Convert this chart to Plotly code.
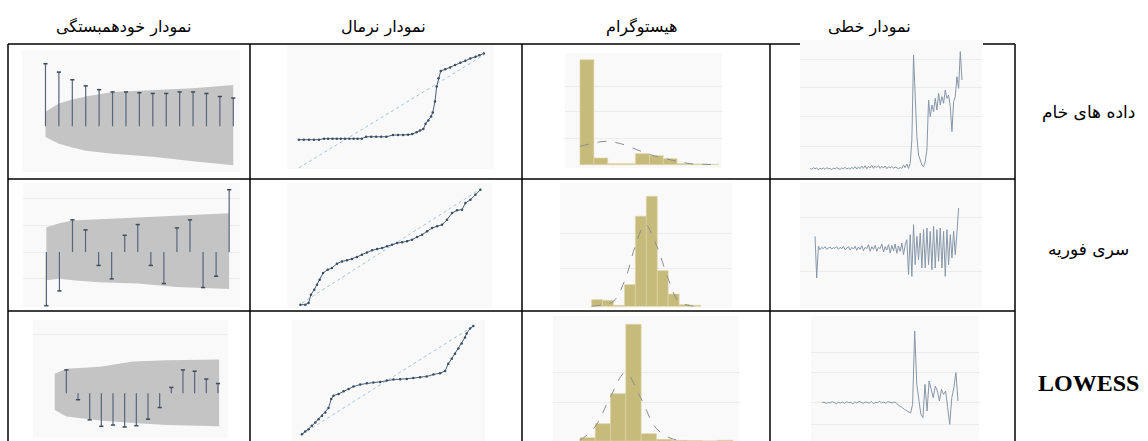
import plotly.graph_objects as go

W, H = 1148, 441

# ---------------- text ----------------
col_headers = ["نمودار خودهمبستگی", "نمودار نرمال", "هیستوگرام", "نمودار خطی"]
row_labels = ["داده های خام", "سری فوریه", "LOWESS"]

# ---------------- autocorrelation (ACF) ----------------
acf1_lags = [1, 2, 3, 4, 5, 6, 7, 8, 9, 10, 11, 12, 13, 14, 15]
acf1_vals = [0.82, 0.71, 0.61, 0.53, 0.48, 0.45, 0.45, 0.44, 0.43, 0.43, 0.45, 0.45, 0.43, 0.39, 0.37]
acf1_band_lags = [1, 2, 3, 4, 6, 9, 12, 15]
acf1_band_up = [0.19, 0.30, 0.35, 0.39, 0.45, 0.47, 0.50, 0.54]
acf1_band_lo = [-0.14, -0.23, -0.28, -0.32, -0.36, -0.40, -0.46, -0.51]

acf2_lags = [1, 2, 3, 4, 5, 6, 7, 8, 9, 10, 11, 12, 13, 14, 15]
acf2_vals = [-0.80, -0.58, 0.48, 0.33, -0.20, -0.40, 0.25, 0.41, -0.20, -0.47, 0.36, 0.48, -0.53, -0.36, 0.93]
acf2_band_lags = [1, 2, 3, 5, 8, 11, 15]
acf2_band_up = [0.37, 0.43, 0.47, 0.49, 0.52, 0.54, 0.58]
acf2_band_lo = [-0.42, -0.40, -0.42, -0.45, -0.47, -0.52, -0.55]

acf3_lags = [1, 2, 3, 4, 5, 6, 7, 8, 9, 10, 11, 12, 13, 14]
acf3_vals = [0.36, -0.10, -0.41, -0.51, -0.49, -0.52, -0.50, -0.40, -0.22, 0.09, 0.36, 0.34, 0.22, 0.15]
acf3_band_lags = [0, 1, 3.9, 6.7, 9.6, 14.1]
acf3_band_up = [0.30, 0.38, 0.41, 0.49, 0.51, 0.52]
acf3_band_lo = [-0.26, -0.36, -0.42, -0.46, -0.49, -0.51]

# ---------------- normal Q-Q ----------------
qq1_expected = [0, 0.27, 0.55, 0.82, 1.09, 1.36, 1.58, 1.82, 2.05, 2.27, 2.49, 2.73, 2.96, 3.18, 3.40,
                3.64, 3.91, 4.18, 4.45, 4.73, 5.09, 5.36, 5.64, 5.91, 6.13, 6.36, 6.55, 6.73, 6.85, 7.0,
                7.15, 7.24, 7.36, 7.45, 7.55, 7.67, 7.91, 8.18, 8.45, 8.73, 9.0, 9.27, 9.55, 9.76, 10.0]
qq1_observed = [2.50, 2.50, 2.50, 2.50, 2.50, 2.59, 2.59, 2.59, 2.59, 2.59, 2.59, 2.59, 2.59, 2.59, 2.59,
                2.76, 2.76, 2.76, 2.76, 2.76, 2.91, 2.91, 2.91, 2.94, 3.0, 3.15, 3.32, 3.44, 3.91, 4.21,
                4.56, 4.91, 5.88, 7.21, 7.94, 8.59, 8.74, 8.91, 9.12, 9.32, 9.5, 9.71, 9.85, 10.0, 10.15]

qq2_expected = [-0.09, 0.19, 0.37, 0.50, 0.69, 0.84, 0.99, 1.18, 1.44, 1.68, 1.96, 2.24, 2.52, 2.80, 3.08,
                3.36, 3.64, 3.93, 4.21, 4.49, 4.77, 5.05, 5.33, 5.61, 5.89, 6.17, 6.45, 6.73, 7.01, 7.29,
                7.57, 7.85, 8.13, 8.41, 8.69, 8.97, 9.16, 9.44, 9.72, 10.0]
qq2_observed = [-0.15, -0.15, 0.0, 0.73, 1.17, 1.61, 2.05, 2.63, 2.92, 3.07, 3.45, 3.65, 3.74, 3.86, 4.04,
                4.24, 4.44, 4.62, 4.74, 4.82, 4.97, 5.12, 5.26, 5.32, 5.41, 5.56, 5.79, 5.99, 6.29, 6.58,
                6.73, 6.87, 7.31, 7.89, 8.13, 8.19, 8.77, 9.06, 9.50, 9.94]

qq3_expected = [0, 0.19, 0.39, 0.58, 0.78, 0.97, 1.17, 1.36, 1.55, 1.71, 1.84, 2.14, 2.43, 2.72, 3.01,
                3.40, 3.79, 4.17, 4.56, 4.95, 5.34, 5.73, 6.12, 6.50, 6.89, 7.28, 7.67, 8.06, 8.35, 8.54,
                8.74, 8.93, 9.13, 9.32, 9.51, 9.61, 9.81, 10.0]
qq3_observed = [0, 0.25, 0.47, 0.78, 1.09, 1.40, 1.71, 2.02, 2.42, 3.26, 3.57, 3.73, 3.98, 4.19, 4.41,
                4.60, 4.72, 4.78, 4.84, 4.97, 5.06, 5.09, 5.12, 5.19, 5.28, 5.34, 5.53, 5.65, 5.84, 6.52,
                6.99, 7.45, 7.92, 8.39, 8.94, 9.32, 9.78, 10.0]
qq_line = [0, 10]

# ---------------- histograms ----------------
hist1_counts = [315, 20, 3, 3, 33, 27, 18, 3, 2, 1]
hist1_curve_x = [0, 1, 1.93, 3.01, 4.1, 5.06, 6.02, 6.99, 7.95, 8.92, 10.0]
hist1_curve_y = [55, 65, 70, 62, 45, 30, 20, 10, 3, 1, 0]

hist2_counts = [20, 18, 3, 65, 270, 330, 107, 37, 5, 3]
hist2_curve_x = [0, 1.07, 1.99, 3.06, 3.98, 4.89, 5.96, 7.03, 7.95, 9.02, 10.0]
hist2_curve_y = [0, 5, 15, 80, 180, 245, 180, 80, 15, 2, 0]

hist3_counts = [10, 52, 142, 350, 22, 5, 2, 1, 0, 2]
hist3_curve_x = [0, 0.95, 1.97, 2.97, 3.97, 4.95, 5.95, 6.9]
hist3_curve_y = [2, 40, 130, 205, 130, 40, 8, 0]

# ---------------- line charts ----------------
line1_vals = [35, 32, 37, 34, 36, 31, 35, 33, 36, 32, 37, 34, 35, 31, 36, 33, 37, 34, 32, 36,
              34, 38, 33, 36, 32, 38, 34, 40, 33, 39, 34, 42, 35, 43, 34, 41, 36, 44, 35, 42,
              37, 43, 35, 41, 36, 42, 34, 40, 36, 41, 35, 39, 36, 34, 37, 35, 45, 37, 48, 35,
              50, 120, 375, 270, 130, 75, 60, 45, 40, 55, 90, 240, 190, 225, 205, 245, 210, 260,
              225, 250, 230, 270, 245, 255, 220, 145, 235, 250, 310, 275, 385, 300]
line2_vals = [215, 90, 185, 175, 182, 178, 184, 176, 180, 183, 177, 181, 179, 184, 176, 182, 178, 185,
              175, 180, 184, 174, 182, 177, 185, 173, 183, 176, 187, 172, 182, 178, 190, 170, 184, 176,
              188, 170, 182, 178, 192, 168, 184, 174, 190, 165, 188, 172, 192, 164, 186, 170, 195, 160,
              190, 205, 100, 220, 95, 250, 130, 215, 145, 225, 120, 235, 120, 240, 130, 230, 115, 245,
              120, 235, 140, 240, 120, 230, 95, 235, 130, 220, 150, 230, 160, 225, 300]
line3_vals = [115, 117, 113, 116, 114, 118, 115, 112, 116, 114, 117, 113, 118, 115, 116, 112, 117, 114,
              119, 115, 113, 117, 116, 114, 118, 112, 116, 115, 119, 114, 117, 113, 118, 116, 114, 117,
              115, 108, 105, 100, 95, 92, 88, 84, 110, 330, 170, 120, 80, 70, 170, 90, 180, 155, 130,
              165, 150, 120, 155, 140, 150, 100, 50, 130, 160, 205, 120]

# ---------------- layout helpers ----------------
def dom(x0, x1, y0, y1):
    return [x0 / W, x1 / W], [1 - y1 / H, 1 - y0 / H]

fig = go.Figure()
layout = {}
axis_n = [0]

BG = "#f9f9f9"
GRID = "#ececec"

def new_axes(box, xr, yr, ygrid=None):
    axis_n[0] += 1
    n = axis_n[0]
    xd, yd = dom(*box)
    xs = "xaxis" if n == 1 else f"xaxis{n}"
    ys = "yaxis" if n == 1 else f"yaxis{n}"
    layout[xs] = dict(domain=xd, range=xr, showgrid=False, zeroline=False, showticklabels=False,
                      ticks="", showline=False, anchor="y" if n == 1 else f"y{n}", fixedrange=True)
    layout[ys] = dict(domain=yd, range=yr, zeroline=False, showticklabels=False, ticks="",
                      showline=False, anchor="x" if n == 1 else f"x{n}", fixedrange=True,
                      showgrid=ygrid is not None, gridcolor=GRID, gridwidth=1,
                      tickvals=ygrid if ygrid is not None else None)
    return ("x" if n == 1 else f"x{n}"), ("y" if n == 1 else f"y{n}")

def stems(lags, vals):
    xs, ys = [], []
    for l, v in zip(lags, vals):
        xs += [l, l, None]
        ys += [0, v, None]
    return xs, ys

def add_acf(box, xr, yr, lags, vals, blags, bup, blo, grid):
    xa, ya = new_axes(box, xr, yr, grid)
    fig.add_trace(go.Scatter(x=list(blags) + list(blags)[::-1], y=list(bup) + list(blo)[::-1],
                             fill="toself", fillcolor="#c4c4c4", line=dict(width=0), mode="lines",
                             xaxis=xa, yaxis=ya, hoverinfo="skip"))
    sx, sy = stems(lags, vals)
    fig.add_trace(go.Scatter(x=sx, y=sy, mode="lines", line=dict(color="#56657a", width=1.2),
                             xaxis=xa, yaxis=ya, hoverinfo="skip"))
    fig.add_trace(go.Scatter(x=lags, y=vals, mode="markers",
                             marker=dict(symbol="line-ew", size=3, line=dict(color="#3d4a5a", width=1.5)),
                             xaxis=xa, yaxis=ya, hoverinfo="skip"))

def add_qq(box, xr, yr, ex, ob):
    xa, ya = new_axes(box, xr, yr, None)
    fig.add_trace(go.Scatter(x=qq_line, y=qq_line, mode="lines",
                             line=dict(color="#a9c3d8", width=1, dash="dot"),
                             xaxis=xa, yaxis=ya, hoverinfo="skip"))
    fig.add_trace(go.Scatter(x=ex, y=ob, mode="lines+markers",
                             line=dict(color="#4a5f78", width=1),
                             marker=dict(size=2.5, color="#3b4d63"),
                             xaxis=xa, yaxis=ya, hoverinfo="skip"))

def add_hist(box, xr, yr, counts, cx, cy, grid):
    xa, ya = new_axes(box, xr, yr, grid)
    fig.add_trace(go.Bar(x=[i + 0.5 for i in range(len(counts))], y=counts, width=1,
                         marker=dict(color="#c7bb7b", line=dict(color="#ddd4a6", width=0.6)),
                         xaxis=xa, yaxis=ya, hoverinfo="skip"))
    fig.add_trace(go.Scatter(x=cx, y=cy, mode="lines",
                             line=dict(color="#8d8d8d", width=1, dash="dash", shape="spline"),
                             xaxis=xa, yaxis=ya, hoverinfo="skip"))

def add_line(box, xr, yr, vals, grid):
    xa, ya = new_axes(box, xr, yr, grid)
    fig.add_trace(go.Scatter(x=list(range(len(vals))), y=vals, mode="lines",
                             line=dict(color="#8797a8", width=1),
                             xaxis=xa, yaxis=ya, hoverinfo="skip"))

# Row 1
add_acf((22, 240, 50, 172), [-0.75, 15.5], [-0.6, 1.0], acf1_lags, acf1_vals,
        acf1_band_lags, acf1_band_up, acf1_band_lo, None)
add_qq((287, 494, 45, 169), [-0.64, 10.55], [-0.1, 10.9], qq1_expected, qq1_observed)
add_hist((565, 722, 53, 168), [-1.08, 10.24], [-10, 335], hist1_counts, hist1_curve_x, hist1_curve_y,
         [80, 160, 235])
add_line((800, 982, 40, 180), [-6, 103], [0, 420], line1_vals, [102, 192, 278, 362])

# Row 2
add_acf((23, 240, 183, 307), [-0.79, 15.83], [-0.82, 1.03], acf2_lags, acf2_vals,
        acf2_band_lags, acf2_band_up, acf2_band_lo, [-0.4, 0, 0.4, 0.8])
add_qq((287, 492, 183, 308), [-0.84, 10.65], [-0.44, 10.53], qq2_expected, qq2_observed)
add_hist((560, 732, 183, 308), [-2.9, 12.84], [-5, 370], hist2_counts, hist2_curve_x, hist2_curve_y,
         [115, 220])
add_line((800, 982, 183, 308), [-9, 100], [0, 375], line2_vals, [110, 272])

# Row 3
add_acf((33, 228, 320, 438), [-1.86, 14.86], [-0.69, 1.13], acf3_lags, acf3_vals,
        acf3_band_lags, acf3_band_up, acf3_band_lo, [0.9])
add_qq((292, 485, 320, 441), [-0.58, 10.68], [-0.62, 10.56], qq3_expected, qq3_observed)
add_hist((553, 739, 316, 441), [-1.76, 10.4], [0, 375], hist3_counts, hist3_curve_x, hist3_curve_y,
         [115, 205])
add_line((811, 979, 316, 441), [-5.3, 76.2], [0, 375], line3_vals, [50, 115, 205, 265])

# ---------------- table grid ----------------
shapes = []
def hline(y, x0, x1):
    shapes.append(dict(type="line", xref="paper", yref="paper", x0=x0 / W, x1=x1 / W,
                       y0=1 - y / H, y1=1 - y / H, line=dict(color="black", width=1.5)))
def vline(x, y0, y1):
    shapes.append(dict(type="line", xref="paper", yref="paper", x0=x / W, x1=x / W,
                       y0=1 - y0 / H, y1=1 - y1 / H, line=dict(color="black", width=1.5)))

hline(44, 8, 800)
hline(44, 983, 1015)
hline(179, 8, 1015)
hline(311, 8, 1015)
for xv in [8, 250, 522, 770, 1015]:
    vline(xv, 44, 441)

annotations = []
for txt, cx in zip(col_headers, [123, 383, 641, 869]):
    annotations.append(dict(text=txt, x=cx / W, y=1 - 27 / H, xref="paper", yref="paper",
                            showarrow=False, font=dict(family="DejaVu Sans", size=16, color="black"),
                            xanchor="center", yanchor="middle"))
for txt, cy, fam, sz in zip(row_labels, [112, 249, 383],
                            ["DejaVu Sans", "DejaVu Sans", "Liberation Serif"], [17, 17, 24]):
    if txt == "LOWESS":
        txt = "<b>LOWESS</b>"
    annotations.append(dict(text=txt, x=1088 / W, y=1 - cy / H, xref="paper", yref="paper",
                            showarrow=False, font=dict(family=fam, size=sz, color="black"),
                            xanchor="center", yanchor="middle"))

fig.update_layout(width=W, height=H, margin=dict(l=0, r=0, t=0, b=0), autosize=False,
                  paper_bgcolor="white", plot_bgcolor=BG, showlegend=False,
                  shapes=shapes, annotations=annotations, **layout)

fig.write_html("out.html", config={"displayModeBar": False, "staticPlot": True},
               post_script="document.body.style.margin='0';document.body.style.padding='0';")
